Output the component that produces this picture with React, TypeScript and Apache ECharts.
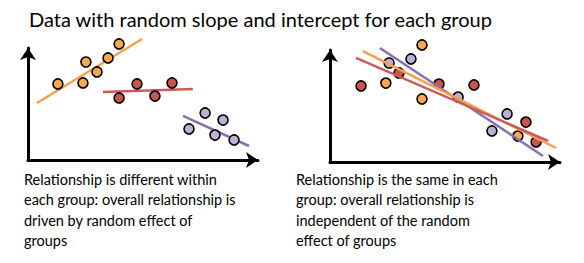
import React, { useEffect, useRef } from "react";
import * as echarts from "echarts";

// Left panel: random slope and intercept per group (x, y on a 0-10 axis scale)
const leftOrange = [[1.3, 6.79], [2.52, 8.75], [2.39, 6.88], [3.0, 7.86], [3.48, 9.11], [3.96, 10.36]];
const leftRed = [[4.74, 6.79], [6.26, 6.88], [3.96, 5.54], [5.52, 5.71]];
const leftPurple = [[7.7, 4.2], [8.48, 3.57], [7.0, 2.77], [8.13, 2.23], [8.96, 1.79]];
const leftOrangeFit = [[0.39, 5.09], [4.96, 10.8]];
const leftRedFit = [[3.26, 6.07], [7.17, 6.34]];
const leftPurpleFit = [[6.74, 3.93], [9.61, 1.25]];

// Right panel: same relationship in each group
const rightOrange = [[4.0, 10.45], [2.43, 7.05], [4.0, 5.63], [8.17, 2.32]];
const rightRed = [[1.35, 6.79], [3.0, 7.95], [4.74, 6.96], [6.26, 6.88], [8.52, 3.57], [8.96, 1.79]];
const rightPurple = [[2.57, 8.84], [3.52, 9.2], [5.57, 5.8], [7.7, 4.29], [7.04, 2.77]];
const rightPurpleFit = [[2.17, 10.18], [9.26, 0.54]];
const rightOrangeFit = [[1.43, 9.91], [9.83, 1.25]];
const rightRedFit = [[1.13, 9.29], [9.48, 1.88]];

const titleText = "Data with random slope and intercept for each group";
const leftCaption = ["Relationship is different within", "each group: overall relationship is", "driven by random effect of", "groups"];
const rightCaption = ["Relationship is the same in each", "group: overall relationship is", "independent of the random", "effect of groups"];

const ORANGE_FILL = "#F8A94F";
const RED_FILL = "#C9534F";
const PURPLE_FILL = "#BFAED6";
const ORANGE_LINE = "#F7A04C";
const RED_LINE = "#CB5A57";
const PURPLE_LINE = "#8A6FB0";
const FONT = "Lato, 'Open Sans', sans-serif";

function axisPair(gridIndex: number) {
  const line = {
    show: true,
    onZero: true,
    symbol: ["none", "arrow"],
    symbolSize: [12, 12],
    lineStyle: { color: "#000", width: 3 },
  };
  return {
    x: {
      type: "value", gridIndex, min: 0, max: 10,
      axisLine: line, axisTick: { show: false }, axisLabel: { show: false }, splitLine: { show: false },
    },
    y: {
      type: "value", gridIndex, min: 0, max: 10,
      axisLine: line, axisTick: { show: false }, axisLabel: { show: false }, splitLine: { show: false },
    },
  };
}

function scatter(data: number[][], color: string, idx: number) {
  return {
    type: "scatter", data, xAxisIndex: idx, yAxisIndex: idx, clip: false, z: 2,
    symbol: "circle", symbolSize: 10,
    itemStyle: { color, borderColor: "#000", borderWidth: 1.6, opacity: 1 },
  };
}

function fit(data: number[][], color: string, idx: number, z: number) {
  return {
    type: "line", data, xAxisIndex: idx, yAxisIndex: idx, clip: false, z,
    symbol: "none", lineStyle: { color, width: 2.5 },
  };
}

export default function App() {
  const ref = useRef<HTMLDivElement>(null);
  useEffect(() => {
    if (!ref.current) return;
    const chart = echarts.init(ref.current, null, { renderer: "svg" });
    const a0 = axisPair(0);
    const a1 = axisPair(1);
    chart.setOption({
      animation: false,
      backgroundColor: "#fff",
      grid: [
        { left: 28, top: 48, width: 230, height: 112 },
        { left: 330, top: 50, width: 230, height: 112 },
      ],
      xAxis: [a0.x, a1.x],
      yAxis: [a0.y, a1.y],
      graphic: [
        { type: "text", left: 29, top: 9, style: { text: titleText, font: `20px ${FONT}`, fill: "#000" } },
        { type: "text", left: 24, top: 169, style: { text: leftCaption.join("\n"), font: `14.5px ${FONT}`, lineHeight: 20.5, fill: "#000" } },
        { type: "text", left: 296, top: 169, style: { text: rightCaption.join("\n"), font: `14.5px ${FONT}`, lineHeight: 20.5, fill: "#000" } },
      ],
      series: [
        fit(leftOrangeFit, ORANGE_LINE, 0, 1),
        fit(leftRedFit, RED_LINE, 0, 1),
        fit(leftPurpleFit, PURPLE_LINE, 0, 1),
        scatter(leftOrange, ORANGE_FILL, 0),
        scatter(leftRed, RED_FILL, 0),
        scatter(leftPurple, PURPLE_FILL, 0),
        scatter(rightOrange, ORANGE_FILL, 1),
        scatter(rightRed, RED_FILL, 1),
        scatter(rightPurple, PURPLE_FILL, 1),
        fit(rightPurpleFit, PURPLE_LINE, 1, 3),
        fit(rightOrangeFit, ORANGE_LINE, 1, 3),
        fit(rightRedFit, RED_LINE, 1, 3),
      ],
    });
    return () => chart.dispose();
  }, []);
  return <div ref={ref} style={{ position: "absolute", left: 0, top: 0, width: 584, height: 263 }} />;
}
